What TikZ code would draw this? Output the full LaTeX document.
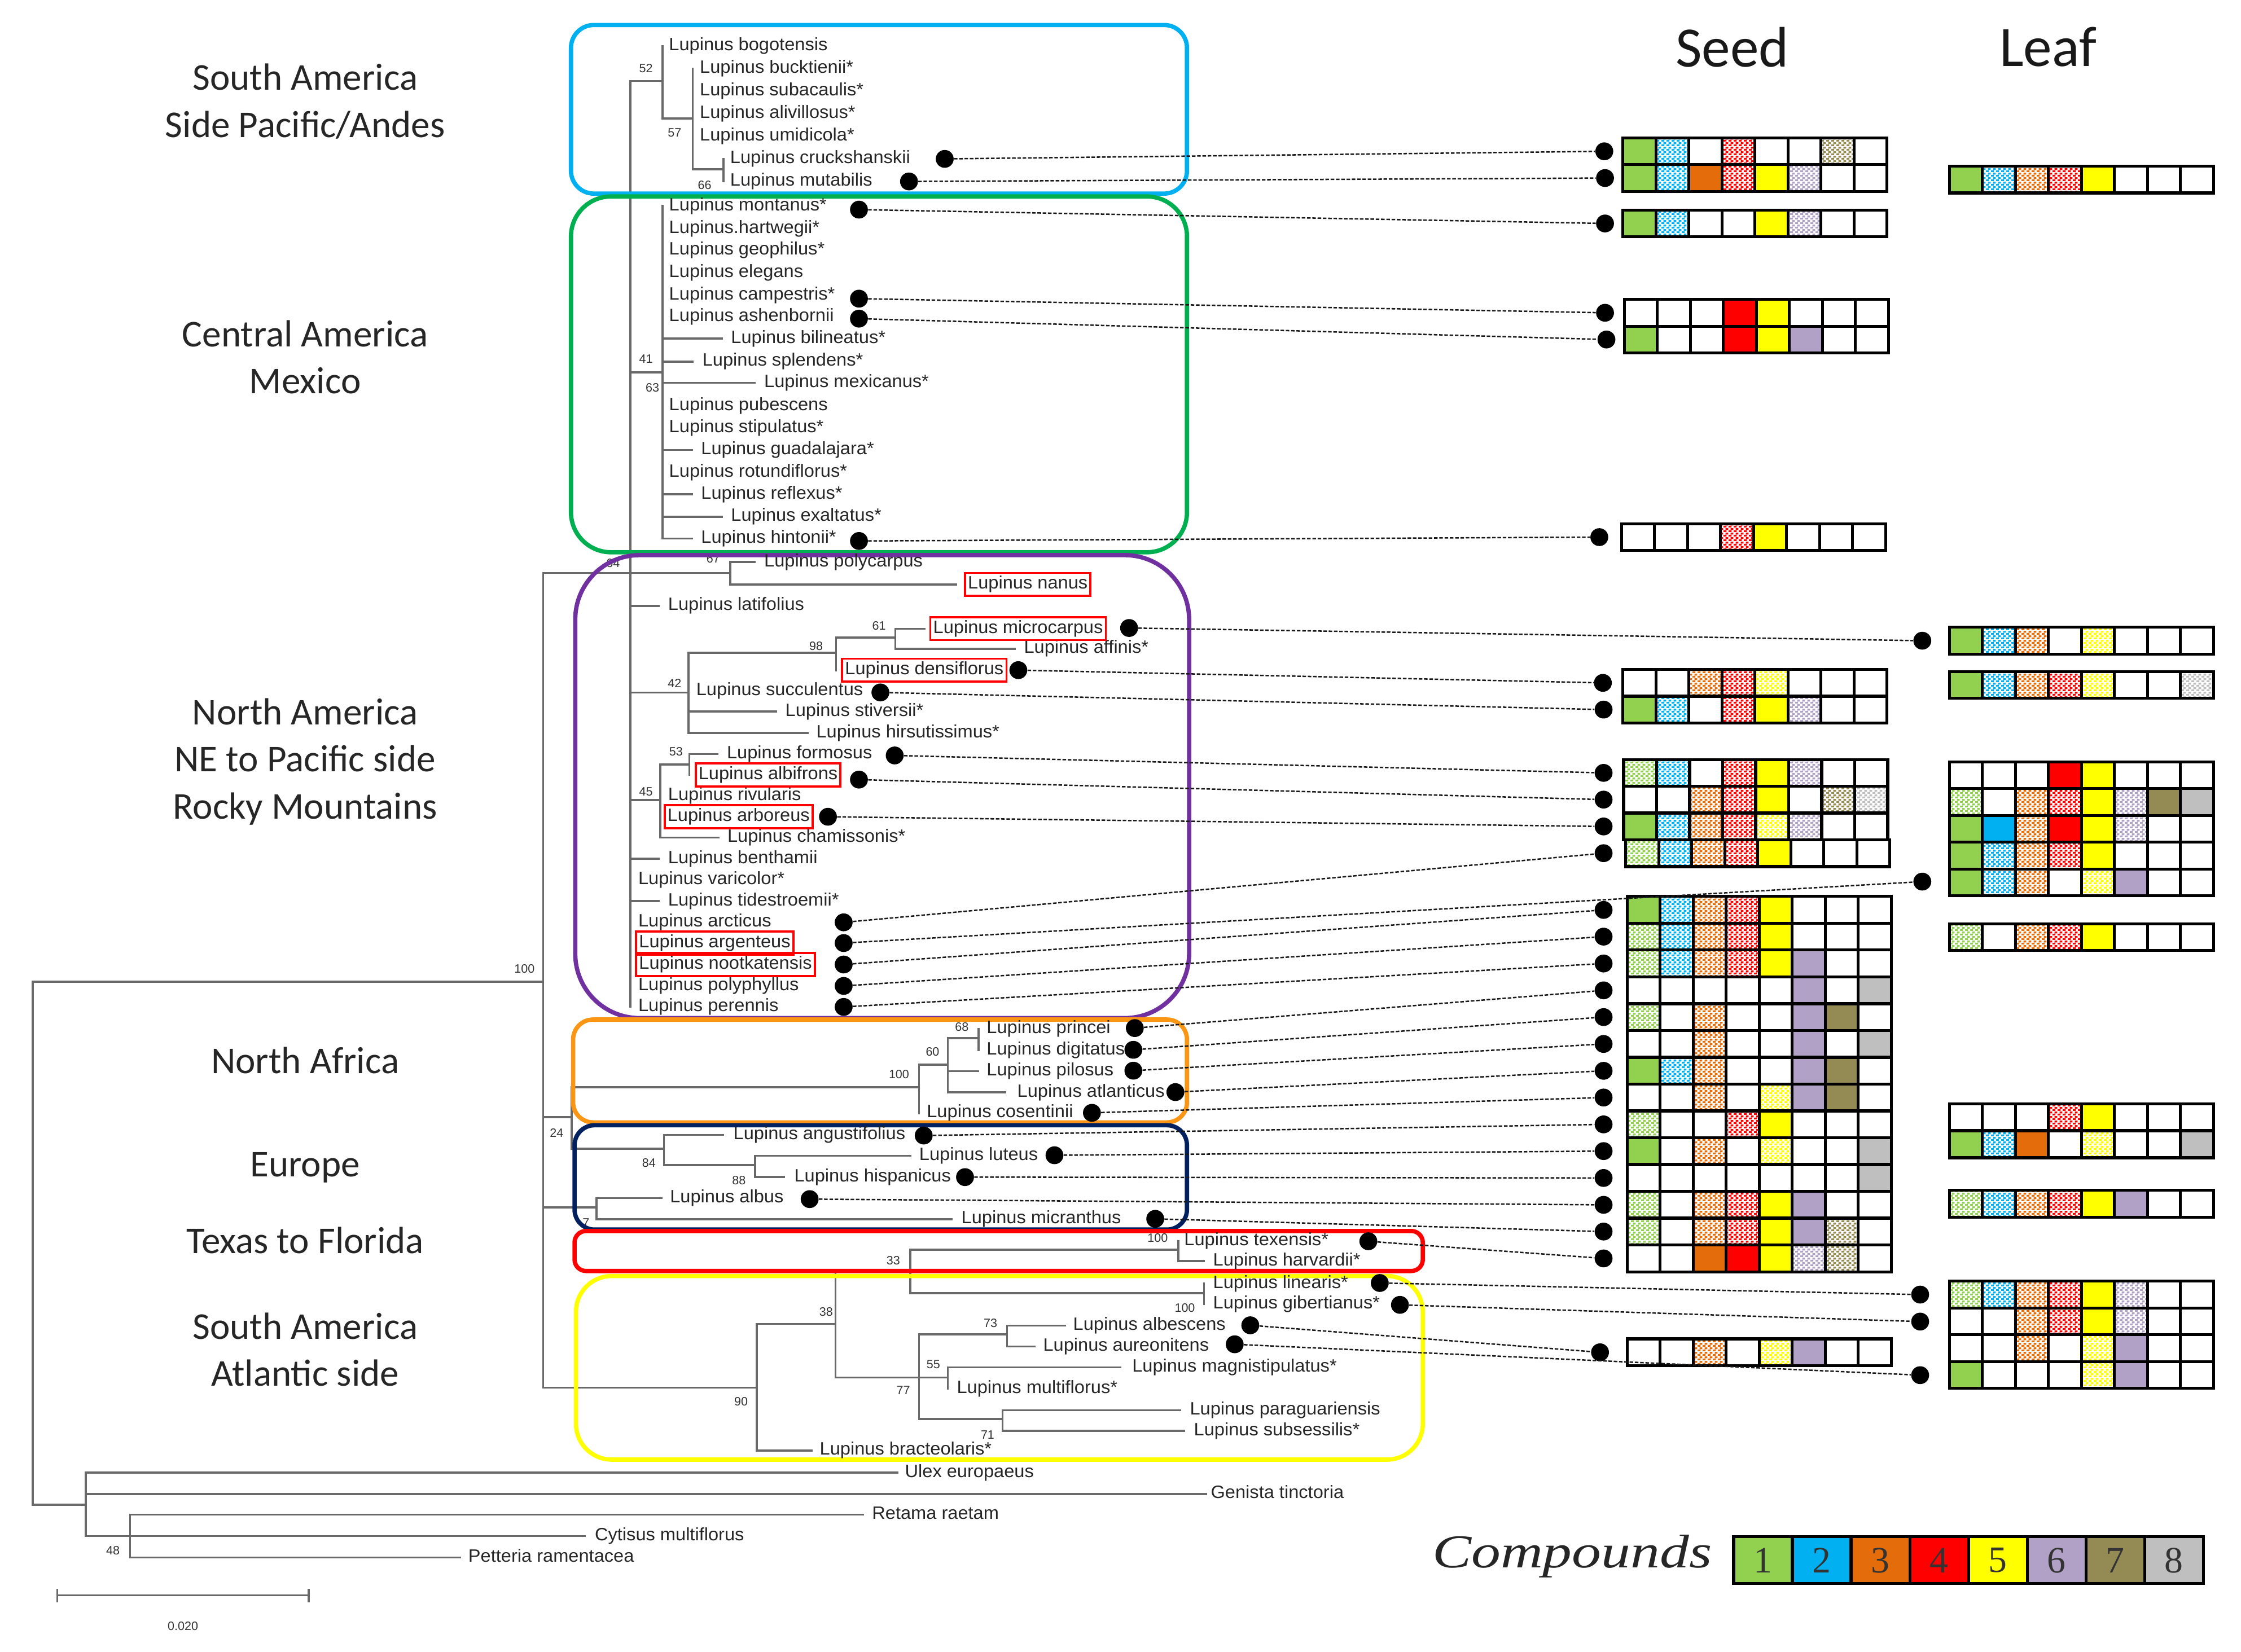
\documentclass[tikz,border=0pt]{standalone}
\usepackage{fontspec}
\setmainfont{Liberation Sans}
\newfontfamily\tipfont[FakeStretch=1.03]{Liberation Sans}
\newfontfamily\regionfont{Carlito}
\newfontfamily\legserif{Liberation Serif}
\usetikzlibrary{patterns}
\pgfdeclarepatternformonly{speck}{\pgfqpoint{0pt}{0pt}}{\pgfqpoint{3.6pt}{3pt}}{\pgfqpoint{3.6pt}{3pt}}{%
  \pgfpathrectangle{\pgfqpoint{0pt}{0pt}}{\pgfqpoint{2.2pt}{1.3pt}}%
  \pgfpathrectangle{\pgfqpoint{1.6pt}{1.5pt}}{\pgfqpoint{2pt}{1.3pt}}%
  \pgfusepath{fill}}
\definecolor{c1}{RGB}{146,208,80}
\definecolor{c2}{RGB}{0,176,240}
\definecolor{c3}{RGB}{228,108,10}
\definecolor{c4}{RGB}{255,0,0}
\definecolor{c5}{RGB}{255,255,0}
\definecolor{c6}{RGB}{178,161,199}
\definecolor{c7}{RGB}{148,138,84}
\definecolor{c8}{RGB}{191,191,191}
\definecolor{treegray}{RGB}{105,105,105}
\definecolor{boxcyan}{RGB}{0,176,240}
\definecolor{boxgreen}{RGB}{0,176,80}
\definecolor{boxpurple}{RGB}{112,48,160}
\definecolor{boxorange}{RGB}{250,150,20}
\definecolor{boxnavy}{RGB}{0,32,96}
\definecolor{boxred}{RGB}{255,0,0}
\definecolor{boxyellow}{RGB}{255,255,0}
\tikzset{
 tip/.style={anchor=west, inner xsep=2pt, inner ysep=2.2pt, text height=9pt, text depth=2.6pt, font=\tipfont\fontsize{12.5}{14}\selectfont, text=black!85},
 namebox/.style={draw=red, line width=1.5pt},
 br/.style={draw=treegray, line width=1.4pt, line cap=rect},
 bs/.style={font=\fontsize{8.5}{9}\selectfont, inner sep=0pt, text=black!80},
 dot/.style={circle, fill=black, inner sep=0pt, minimum size=12.5pt},
 conn/.style={draw=black!90, line width=1pt, dash pattern=on 2.5pt off 1.2pt},
 region/.style={font=\regionfont\fontsize{26.5}{33}\selectfont, align=center, text=black!85},
 cellborder/.style={draw=black, line width=2pt},
 clade/.style={line width=3pt, rounded corners=#1},
}
\newcommand{\cellrow}[3]{%
  \foreach \cd [count=\ci] in {#3} {%
    \pgfmathsetmacro{\xl}{#1+(\ci-1)*23.1}%
    \pgfmathsetmacro{\xr}{\xl+23.1}%
    \pgfmathsetmacro{\yb}{#2+18.75}%
    \edef\cc{c\ci}%
    \if S\cd \fill[fill=\cc] (\xl,#2) rectangle (\xr,\yb); \fi
    \if P\cd \fill[pattern=speck, pattern color=\cc] (\xl,#2) rectangle (\xr,\yb); \fi
    \draw[cellborder] (\xl,#2) rectangle (\xr,\yb);
  }%
}
\begin{document}
\begin{tikzpicture}[x=1pt,y=-1pt]
\useasboundingbox (0,0) rectangle (1568,1156);
\fill[white] (0,0) rectangle (1568,1156);

% ---- tree branches ----
\foreach \y/\xa/\xb in {687/23/380, 1053/23/60, 1030.6/60/628, 1045.5/60/844, 1075/60/409,
  1060/91/604, 1090/91/322, 1116.5/40/216, 401/380/511, 56.6/441/463.5, 83/463.5/484.6,
  118.5/484.6/506.3, 260.6/441/463.5, 237/463.5/505, 253/463.5/484.6, 268/463.5/528,
  314.9/463.5/484, 346/463.5/484, 361.6/463.5/505, 376.9/463.5/484, 393.3/511/528,
  409/511/669, 424/441/461, 484.7/441/481.7, 456.8/481.7/585, 446.2/585/626.5,
  440/626.5/647, 454/626.5/710, 498/481.7/543, 513/481.7/565, 560/441/462,
  535/462/482.3, 527.7/482.3/502, 586.2/462/502.6, 601/441/461, 630.6/441/461,
  781.8/380/400, 760.8/400/643, 745/643/663.2, 726.5/663.2/684.6, 749.6/663.2/684.3,
  764.5/663.2/703.5, 804/400/464.6, 794.3/464.6/506, 815.4/464.6/528.3,
  808.8/528.3/637, 823.7/528.3/548.4, 845/380/417.4, 838.4/417.4/463,
  853.2/417.4/666, 971.1/380/529.4, 1015.1/529.4/567.7, 926.6/529.4/584.6,
  889.8/584.6/637, 874.6/637/824.4, 882.5/824.4/842.5, 905/637/842.5,
  964.1/584.6/663.2, 933.9/643.1/704.7, 927.7/704.7/745, 942.4/704.7/724,
  956.9/663.2/784, 993.1/643.1/701.5, 986.9/701.5/825.6, 1001.4/701.5/828.4}
  {\draw[br] (\xa,\y) -- (\xb,\y);}
\foreach \x/\ya/\yb in {23/687/1053, 60/1030.6/1075, 91/1060/1090, 40/1112.5/1120.5,
  216/1112.5/1120.5, 380/401/971.1, 441/56.6/704.7, 463.5/32.2/83, 484.6/48/118.5,
  506.3/111.2/127, 463.5/144.2/376.9, 511/393.3/409, 481.7/456.8/513, 585/446.2/469,
  626.5/440/454, 462/535/586.2, 482.3/527.7/542.4, 400/760.8/804, 643/745/779,
  663.2/726.5/764.5, 684.6/720/735.1, 464.6/794.3/815.4, 528.3/808.8/823.7,
  417.4/838.4/853.2, 529.4/926.6/1015.1, 584.6/889.8/964.1, 637/874.6/905,
  824.4/868.4/882.5, 842.5/898.3/912.8, 643.1/933.9/993.1, 704.7/927.7/942.4,
  663.2/956.9/972, 701.5/986.9/1001.4}
  {\draw[br] (\x,\ya) -- (\x,\yb);}

% ---- bootstrap values ----
\foreach \v/\xx/\yy [count=\k] in {52/452/48, 57/472/93, 66/493/129.5, 41/452/251,
  63/456.5/271.5, 64/429/394, 67/499/391, 61/615/438, 98/571/452, 42/472/478,
  53/473/526, 45/452/554, 100/367/678, 68/673/718.5, 60/652.5/736, 100/629/752,
  24/389.5/793, 84/454/814, 88/517/826, 7/410/855.5, 100/810/866.5, 33/625/882,
  38/578/918, 100/829/915.5, 73/693/926, 55/653/955, 77/632/973, 90/518.5/981,
  71/691/1004, 48/79/1085}
  {\node[bs] (b\k) at (\xx,\yy) {\v};}
\node[bs] (scalelab) at (128,1138) {0.020};

% ---- clade boxes ----
\draw[boxcyan, clade=16pt] (399.5,17.5) rectangle (830.5,135.5);
\draw[boxgreen, clade=28pt] (399.5,137.5) rectangle (830.5,386.5);
\draw[boxpurple, clade=45pt] (402.5,388.5) rectangle (832,712.5);
\draw[boxorange, clade=14pt] (401,713.5) rectangle (830.5,785.5);
\draw[boxnavy, clade=14pt] (402,787.5) rectangle (830.5,860.5);
\draw[boxred, clade=8pt] (402,861.5) rectangle (995.5,889.5);
\draw[boxyellow, clade=25pt] (403,893) rectangle (995.5,1021.5);

% ---- tip names ----
\foreach \nm/\xx/\yy/\tx in {
 bogotensis/465.9/32.2/{Lupinus bogotensis}, bucktienii/487.5/48/{Lupinus bucktienii*},
 subacaulis/487.5/63.8/{Lupinus subacaulis*}, alivillosus/487.5/79.6/{Lupinus alivillosus*},
 umidicola/487.5/95.4/{Lupinus umidicola*}, cruckshanskii/508.7/111.2/{Lupinus cruckshanskii},
 mutabilis/508.7/127/{Lupinus mutabilis}, montanus/466/144.2/{Lupinus montanus*},
 hartwegii/466/160/{Lupinus.hartwegii*}, geophilus/466/175/{Lupinus geophilus*},
 elegans/466/190.7/{Lupinus elegans}, campestris/466/206.5/{Lupinus campestris*},
 ashenbornii/466/221.5/{Lupinus ashenbornii}, bilineatus/509.3/237/{Lupinus bilineatus*},
 splendens/489.3/253/{Lupinus splendens*}, mexicanus/532.5/268/{Lupinus mexicanus*},
 pubescens/466/284/{Lupinus pubescens}, stipulatus/466/299.6/{Lupinus stipulatus*},
 guadalajara/488.4/314.9/{Lupinus guadalajara*}, rotundiflorus/466/330.7/{Lupinus rotundiflorus*},
 reflexus/488.4/346/{Lupinus reflexus*}, exaltatus/509.3/361.6/{Lupinus exaltatus*},
 hintonii/488.4/376.9/{Lupinus hintonii*}, polycarpus/532.5/393.3/{Lupinus polycarpus},
 latifolius/465.3/424/{Lupinus latifolius}, affinis/714.3/454/{Lupinus affinis*},
 succulentus/485/483.3/{Lupinus succulentus}, stiversii/547.3/498/{Lupinus stiversii*},
 hirsutissimus/569/513/{Lupinus hirsutissimus*}, formosus/506.4/527.7/{Lupinus formosus},
 rivularis/465.3/556.8/{Lupinus rivularis}, chamissonis/506.8/586.2/{Lupinus chamissonis*},
 benthamii/465.3/601/{Lupinus benthamii}, varicolor/444.4/615.8/{Lupinus varicolor*},
 tidestroemii/465.3/630.6/{Lupinus tidestroemii*}, arcticus/444.4/645.5/{Lupinus arcticus},
 polyphyllus/444.4/690/{Lupinus polyphyllus}, perennis/444.4/704.7/{Lupinus perennis},
 princei/688.2/720/{Lupinus princei}, digitatus/688.2/735.1/{Lupinus digitatus},
 pilosus/688.2/749.6/{Lupinus pilosus}, atlanticus/709.6/764.5/{Lupinus atlanticus},
 cosentinii/646.3/779/{Lupinus cosentinii}, angustifolius/511/794.3/{Lupinus angustifolius},
 luteus/641/808.8/{Lupinus luteus}, hispanicus/553.6/823.7/{Lupinus hispanicus},
 albus/466.6/838.4/{Lupinus albus}, micranthus/670.5/853.2/{Lupinus micranthus},
 texensis/826.4/868.4/{Lupinus texensis*}, harvardii/846.6/882.5/{Lupinus harvardii*},
 linearis/846.6/898.3/{Lupinus linearis*}, gibertianus/846.6/912.8/{Lupinus gibertianus*},
 albescens/748.7/927.7/{Lupinus albescens}, aureonitens/727.7/942.4/{Lupinus aureonitens},
 magnistipulatus/790/956.9/{Lupinus magnistipulatus*}, multiflorus/667.3/972/{Lupinus multiflorus*},
 paraguariensis/830.4/986.9/{Lupinus paraguariensis}, subsessilis/833.2/1001.4/{Lupinus subsessilis*},
 bracteolaris/571.4/1015.1/{Lupinus bracteolaris*}, ulex/631/1030.6/{Ulex europaeus},
 genista/845/1045.5/{Genista tinctoria}, retama/608/1060/{Retama raetam},
 cytisus/414/1075/{Cytisus multiflorus}, petteria/325.5/1090/{Petteria ramentacea}}
 {\node[tip] (\nm) at (\xx,\yy) {\tx};}
\foreach \nm/\xx/\yy/\tx in {
 nanus/674.5/409/{Lupinus nanus}, microcarpus/650.2/440/{Lupinus microcarpus},
 densiflorus/588.5/469/{Lupinus densiflorus}, albifrons/486/542.4/{Lupinus albifrons},
 arboreus/464.3/571.6/{Lupinus arboreus}, argenteus/444.4/660/{Lupinus argenteus},
 nootkatensis/444.4/675/{Lupinus nootkatensis}}
 {\node[tip, namebox] (\nm) at (\xx,\yy) {\tx};}

% ---- region labels ----
\node[region] (rg1) at (213.5,71) {South America\\Side Pacific/Andes};
\node[region] (rg2) at (213.5,250) {Central America\\Mexico};
\node[region] (rg3) at (213.5,533) {North America\\NE to Pacific side\\Rocky Mountains};
\node[region] (rg4) at (213.5,742) {North Africa};
\node[region] (rg5) at (213.5,817) {Europe};
\node[region] (rg6) at (213.5,868) {Texas to Florida};
\node[region] (rg7) at (213.5,944.5) {South America\\Atlantic side};

\node[font=\regionfont\fontsize{40}{40}\selectfont, text=black!90] (seedtitle) at (1212,33) {Seed};
\node[font=\regionfont\fontsize{40}{40}\selectfont, text=black!90] (leaftitle) at (1433,33) {Leaf};

% ---- seed matrix ----
\cellrow{1135.5}{96.5}{S,P,0,P,0,0,P,0}
\cellrow{1135.5}{115.25}{S,P,S,P,S,P,0,0}
\cellrow{1135.5}{147}{S,P,0,0,S,P,0,0}
\cellrow{1136.5}{209.5}{0,0,0,S,S,0,0,0}
\cellrow{1136.5}{228.25}{S,0,0,S,S,S,0,0}
\cellrow{1134.5}{366.5}{0,0,0,P,S,0,0,0}
\cellrow{1135.5}{468.5}{0,0,P,P,P,0,0,0}
\cellrow{1135.5}{487.25}{S,P,0,P,S,P,0,0}
\cellrow{1136}{531.5}{P,P,0,P,S,P,0,0}
\cellrow{1136}{550.25}{0,0,P,P,S,0,P,P}
\cellrow{1136}{569}{S,P,P,P,P,P,0,0}
\cellrow{1137.5}{587.75}{P,P,P,P,S,0,0,0}
\cellrow{1138.5}{627.4}{S,P,P,P,S,0,0,0}
\cellrow{1138.5}{646.16}{P,P,P,P,S,0,0,0}
\cellrow{1138.5}{664.92}{P,P,P,P,S,S,0,0}
\cellrow{1138.5}{683.68}{0,0,0,0,0,S,0,S}
\cellrow{1138.5}{702.44}{P,0,P,0,0,S,S,0}
\cellrow{1138.5}{721.2}{0,0,P,0,0,S,0,S}
\cellrow{1138.5}{739.96}{S,P,P,0,0,S,S,0}
\cellrow{1138.5}{758.72}{0,0,P,0,P,S,S,0}
\cellrow{1138.5}{777.48}{P,0,0,P,S,0,0,0}
\cellrow{1138.5}{796.24}{S,0,P,0,P,0,0,S}
\cellrow{1138.5}{815}{0,0,0,0,0,0,0,S}
\cellrow{1138.5}{833.76}{P,0,P,P,S,S,0,0}
\cellrow{1138.5}{852.52}{P,0,P,P,S,S,P,0}
\cellrow{1138.5}{871.28}{0,0,S,S,S,P,P,0}
\cellrow{1138.5}{937}{0,0,P,0,P,S,0,0}

% ---- leaf matrix ----
\cellrow{1364}{116.3}{S,P,P,P,S,0,0,0}
\cellrow{1364}{439}{S,P,P,0,P,0,0,0}
\cellrow{1364}{470}{S,P,P,P,P,0,0,P}
\cellrow{1364}{533.2}{0,0,0,S,S,0,0,0}
\cellrow{1364}{551.95}{P,0,P,P,S,P,S,S}
\cellrow{1364}{570.7}{S,S,P,S,S,P,0,0}
\cellrow{1364}{589.45}{S,P,P,P,S,0,0,0}
\cellrow{1364}{608.2}{S,P,P,0,P,S,0,0}
\cellrow{1364}{646.4}{P,0,P,P,S,0,0,0}
\cellrow{1364}{772.5}{0,0,0,P,S,0,0,0}
\cellrow{1364}{791.5}{S,P,S,0,P,0,0,S}
\cellrow{1364}{833}{P,P,P,P,S,S,0,0}
\cellrow{1364}{896.7}{P,P,P,P,S,P,0,0}
\cellrow{1364}{915.45}{0,0,P,P,S,P,0,0}
\cellrow{1364}{934.2}{0,0,P,0,P,S,0,0}
\cellrow{1364}{952.95}{S,0,0,0,P,S,0,0}

% ---- dots ----
\foreach \xx/\yy [count=\k] in {661/111.2, 636/127, 601/146.7, 601/209, 601/223, 601/378.6,
  790/439.5, 712.5/469, 616/484.6, 626/528.7, 601/545.6, 579.3/571.6, 590.3/645.5,
  590.3/660, 590.3/675, 590.3/690, 590.3/704.7, 794/719.5, 793/734.7, 793/749.3,
  822.4/764.3, 764/778.8, 646.3/794.7, 737.8/808.5, 675.2/823.8, 566.5/839.2,
  808.3/853, 957.4/868.7, 965.4/897.9, 979.5/913.2, 874.8/927.5, 863.9/940.8}
  {\node[dot] (t\k) at (\xx,\yy) {};}
\foreach \xx/\yy [count=\k] in {1122.5/105.9, 1123/124.6, 1123/156.4, 1123/218.9,
  1124/237.6, 1119/375.9, 1121.5/477.9, 1122/496.6, 1122/540.9, 1122/559.6,
  1122/578.4, 1122/597.1, 1122/636.8, 1122/655.5, 1122/674.3, 1122/693.1,
  1122/711.8, 1122/730.6, 1122/749.4, 1122/768.1, 1122/786.9, 1122/805.6,
  1122/824.4, 1122/843.2, 1122/861.9, 1122/880.7, 1119.5/946.4}
  {\node[dot] (s\k) at (\xx,\yy) {};}
\node[dot] (l2) at (1345,448.4) {};
\node[dot] (l8) at (1345,617) {};
\node[dot] (l13) at (1343.5,906) {};
\node[dot] (l14) at (1343.5,924.9) {};
\node[dot] (l16) at (1343.5,962.4) {};

% ---- connectors ----
\foreach \a/\b in {t1/s1, t2/s2, t3/s3, t4/s4, t5/s5, t6/s6, t7/l2, t8/s7, t9/s8,
  t10/s9, t11/s10, t12/s11, t13/s12, t14/l8, t15/s13, t16/s14, t17/s15, t18/s16,
  t19/s17, t20/s18, t21/s19, t22/s20, t23/s21, t24/s22, t25/s23, t26/s24, t27/s25,
  t28/s26, t29/l13, t30/l14, t31/s27, t32/l16}
  {\draw[conn] (\a) -- (\b);}

% ---- compounds legend ----
\node[font=\legserif\itshape\fontsize{33}{33}\selectfont, text=black!85] (complab) at (1100,1089) {\scalebox{1.24}[1]{Compounds}};
\foreach \k in {1,...,8} {
  \pgfmathsetmacro{\xl}{1213+(\k-1)*41.07}
  \pgfmathsetmacro{\xr}{\xl+41.07}
  \pgfmathsetmacro{\xm}{\xl+20.5}
  \edef\cc{c\k}
  \fill[fill=\cc] (\xl,1075.3) rectangle (\xr,1108);
  \draw[cellborder] (\xl,1075.3) rectangle (\xr,1108);
  \node[font=\legserif\fontsize{26}{26}\selectfont, text=black!80] (leg\k) at (\xm,1092) {\k};
}
\end{tikzpicture}
\end{document}
